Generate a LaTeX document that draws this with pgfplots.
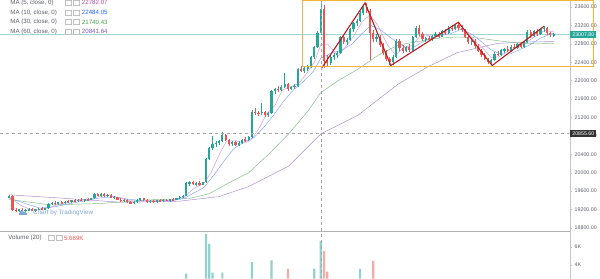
\documentclass[border=0pt]{standalone}
\usepackage{fontspec}
\setmainfont{Liberation Sans}
\usepackage{pgfplots}
\usepackage{pgfplotstable}
\pgfplotsset{compat=1.18}
\definecolor{up}{HTML}{26A69A}
\definecolor{dn}{HTML}{EF5350}
\definecolor{ma5}{HTML}{B44FB8}
\definecolor{ma10}{HTML}{2962FF}
\definecolor{ma30}{HTML}{43A047}
\definecolor{ma60}{HTML}{7E57C2}
\definecolor{trend}{HTML}{B71C1C}
\definecolor{boxc}{HTML}{F2B53C}
\definecolor{axgray}{HTML}{C3C5CB}
\definecolor{txt}{HTML}{5D606B}
\definecolor{wm}{HTML}{7FA6D6}
\newcommand\axf{\fontsize{5.3}{6}\selectfont}
\newcommand\lgf{\fontsize{6.2}{7}\selectfont}

\pgfplotstableread{
i o h l c
0 19468 19520 19450 19490
1 19490 19510 19160 19190
2 19190 19230 19150 19180
3 19180 19220 19140 19200
4 19200 19230 19160 19170
5 19170 19210 19140 19190
6 19190 19230 19160 19210
7 19210 19240 19170 19180
8 19180 19220 19150 19200
9 19200 19240 19180 19220
10 19220 19250 19190 19210
11 19210 19240 19180 19230
12 19230 19340 19220 19320
13 19320 19370 19290 19350
14 19350 19380 19300 19320
15 19320 19370 19300 19360
16 19360 19390 19320 19340
17 19340 19380 19310 19370
18 19370 19400 19340 19360
19 19360 19410 19350 19400
20 19400 19430 19370 19390
21 19390 19420 19360 19410
22 19410 19440 19380 19400
23 19400 19430 19370 19420
24 19420 19450 19390 19410
25 19410 19460 19400 19440
26 19440 19550 19430 19530
27 19530 19560 19490 19510
28 19510 19550 19480 19540
29 19540 19560 19480 19500
30 19500 19530 19470 19520
31 19520 19530 19440 19460
32 19460 19490 19420 19470
33 19470 19480 19400 19410
34 19410 19440 19370 19390
35 19390 19420 19360 19410
36 19410 19420 19340 19360
37 19360 19390 19320 19340
38 19340 19380 19310 19370
39 19370 19420 19350 19410
40 19410 19460 19390 19440
41 19440 19460 19380 19400
42 19400 19420 19350 19370
43 19370 19400 19340 19380
44 19380 19400 19350 19370
45 19370 19410 19350 19400
46 19400 19420 19370 19390
47 19390 19420 19360 19410
48 19410 19430 19380 19400
49 19400 19430 19370 19420
50 19420 19440 19390 19410
51 19410 19460 19400 19450
52 19450 19490 19430 19480
53 19480 19520 19460 19500
54 19500 19790 19490 19770
55 19770 19810 19720 19790
56 19790 19830 19730 19750
57 19750 19800 19720 19780
58 19780 19810 19720 19740
59 19740 19800 19730 19790
60 19790 20320 19780 20300
61 20300 20560 20280 20530
62 20530 20800 20500 20620
63 20620 20680 20560 20650
64 20650 20720 20610 20690
65 20690 20880 20670 20820
66 20820 20850 20680 20710
67 20710 20730 20590 20620
68 20620 20680 20580 20660
69 20660 20690 20570 20600
70 20600 20680 20580 20650
71 20650 20740 20630 20720
72 20720 20770 20670 20700
73 20700 20800 20680 20780
74 20780 21360 20760 21330
75 21330 21400 21260 21300
76 21300 21350 21240 21290
77 21290 21520 21260 21330
78 21330 21350 21220 21250
79 21250 21330 21210 21300
80 21300 21800 21280 21780
81 21780 21850 21720 21820
82 21820 21880 21760 21800
83 21800 21900 21780 21870
84 21870 22170 21850 21930
85 21930 21950 21780 21810
86 21810 21880 21790 21860
87 21860 21920 21820 21890
88 21890 22280 21870 22260
89 22260 22320 22180 22220
90 22220 22290 22170 22270
91 22270 22330 22200 22300
92 22300 22540 22280 22510
93 22510 22760 22480 22730
94 22730 23080 22700 23040
95 23040 23740 23000 23560
96 23560 23650 22270 22430
97 22430 22560 22300 22380
98 22380 22560 22350 22520
99 22520 22600 22450 22560
100 22560 22640 22490 22610
101 22610 22980 22590 22950
102 22950 23000 22800 22840
103 22840 22920 22780 22890
104 22890 23150 22870 23120
105 23120 23280 23050 23250
106 23250 23330 23180 23300
107 23300 23520 23270 23480
108 23480 23650 23430 23600
109 23600 23690 23480 23520
110 23520 23560 22450 23030
111 23030 23100 22850 22900
112 22900 23010 22830 22960
113 22960 22990 22740 22780
114 22780 22820 22560 22600
115 22600 22660 22430 22470
116 22470 22520 22340 22400
117 22400 22560 22340 22520
118 22520 22900 22500 22860
119 22860 22900 22650 22700
120 22700 22780 22600 22650
121 22650 22760 22620 22730
122 22730 22790 22620 22660
123 22660 22970 22640 22940
124 22940 23180 22920 23140
125 23140 23200 22980 23020
126 23020 23060 22860 22900
127 22900 22960 22850 22930
128 22930 22980 22860 22880
129 22880 23000 22860 22980
130 22980 23050 22940 23020
131 23020 23060 22930 22960
132 22960 23100 22940 23070
133 23070 23130 23000 23040
134 23040 23180 23020 23150
135 23150 23200 23080 23120
136 23120 23240 23100 23210
137 23210 23260 23100 23140
138 23140 23200 23060 23100
139 23100 23130 22930 22960
140 22960 23010 22800 22840
141 22840 22900 22780 22870
142 22870 22900 22720 22750
143 22750 22790 22620 22650
144 22650 22680 22520 22550
145 22550 22600 22440 22470
146 22470 22500 22360 22400
147 22400 22480 22340 22440
148 22440 22620 22420 22590
149 22590 22640 22530 22560
150 22560 22690 22540 22660
151 22660 22720 22600 22690
152 22690 22750 22620 22650
153 22650 22770 22630 22740
154 22740 22800 22680 22710
155 22710 22820 22690 22790
156 22790 22830 22700 22740
157 22740 22860 22720 22830
158 22830 23100 22810 23060
159 23060 23110 22930 22970
160 22970 23100 22950 23070
161 23070 23120 22980 23010
162 23010 23150 22990 23120
163 23120 23180 23060 23150
164 23150 23170 23000 23030
165 23030 23060 22960 22990
166 22980 23040 22950 23007.8
}\candles

\pgfplotsset{
  pane/.style={
    scale only axis, width=573pt,
    xmin=0, xmax=573,
    axis x line=none, axis y line*=right,
    y axis line style={axgray, line width=0.4pt},
    tick align=outside, major tick length=2pt,
    tick style={axgray, line width=0.4pt},
    yticklabel style={font=\axf, text=txt, xshift=-0.5pt},
    scaled y ticks=false,
  },
  candle/.style n args={2}{
    draw=none, mark=none, forget plot,
    /pgfplots/error bars/y dir=both,
    /pgfplots/error bars/y explicit,
    /pgfplots/error bars/error mark=none,
    /pgfplots/error bars/error bar style={draw=#1, line width=#2},
  },
}

\begin{document}
\begin{tikzpicture}[x=1pt,y=1pt]
\fill[white] (0,0) rectangle (600,280);

% ---------------- price pane ----------------
\begin{axis}[pane,
  name=pp, at={(0pt,48pt)}, anchor=south west,
  height=232pt, ymin=18734, ymax=23745,
  ytick={18800,19200,...,23600},
  yticklabel={\pgfmathprintnumber[fixed, fixed zerofill, precision=2, 1000 sep={}, assume math mode=true]{\tick}},
]
% last price line
\addplot[up!45, line width=0.35pt] coordinates {(0,23007.8) (573,23007.8)};
% moving averages
\addplot[ma60!70, line width=0.45pt] coordinates {(9,19520)(60,19450)(120,19360)(180,19380)(220,19480)(250,19700)(290,20140)(322.5,20842)(360,21250)(400,21920)(430,22300)(460,22610)(500,22810)(530,22840)(557,22850)};
\addplot[ma30!70, line width=0.45pt] coordinates {(9,19420)(50,19300)(100,19330)(150,19410)(190,19440)(210,19540)(230,19780)(250,20000)(270,20400)(290,20840)(310,21350)(322.5,21740)(340,22000)(360,22250)(380,22550)(400,22770)(420,22850)(440,22920)(460,22950)(480,22930)(500,22870)(520,22820)(540,22800)(557,22810)};
\addplot[ma10!60, line width=0.45pt] coordinates {(9,19450)(25,19330)(40,19230)(55,19260)(70,19330)(85,19390)(100,19450)(115,19480)(130,19420)(145,19390)(160,19390)(175,19400)(185,19440)(195,19560)(205,19680)(215,19950)(225,20250)(235,20520)(245,20670)(255,20760)(265,20980)(275,21250)(285,21550)(295,21800)(305,21980)(315,22200)(322.5,22484)(333,22600)(343,22660)(353,22780)(363,23000)(373,23200)(383,23100)(393,22930)(403,22780)(413,22680)(423,22820)(433,22920)(443,22990)(453,23020)(463,23110)(473,23030)(483,22870)(493,22680)(503,22580)(513,22580)(523,22680)(533,22780)(543,22920)(557,23040)};
\addplot[ma5!60, line width=0.45pt] coordinates {(9,19480)(20,19300)(30,19200)(40,19200)(50,19240)(60,19320)(75,19380)(90,19420)(100,19490)(110,19500)(120,19450)(130,19390)(140,19380)(150,19390)(160,19390)(175,19410)(185,19470)(195,19660)(205,19770)(212,20000)(220,20380)(228,20700)(236,20700)(245,20650)(252,20700)(260,20950)(268,21280)(276,21450)(284,21800)(292,21870)(300,21930)(308,22150)(316,22400)(322.5,22782)(330,22780)(340,22540)(348,22750)(356,22980)(364,23280)(372,23430)(380,23200)(390,22760)(398,22560)(406,22720)(414,22760)(422,22960)(430,22980)(440,22960)(450,23060)(460,23170)(468,23100)(476,22900)(486,22700)(494,22500)(502,22520)(512,22660)(522,22730)(532,22870)(540,22990)(548,23090)(557,23060)};
% candles: wicks
\addplot[restrict expr to domain={\thisrow{c}-\thisrow{o}}{0:100000}, candle={up}{0.5pt}]
  table[x expr=9+3.3*\thisrow{i}, y expr=(\thisrow{h}+\thisrow{l})/2, y error expr=(\thisrow{h}-\thisrow{l})/2] {\candles};
\addplot[restrict expr to domain={\thisrow{c}-\thisrow{o}}{-100000:-0.001}, candle={dn}{0.5pt}]
  table[x expr=9+3.3*\thisrow{i}, y expr=(\thisrow{h}+\thisrow{l})/2, y error expr=(\thisrow{h}-\thisrow{l})/2] {\candles};
% candles: bodies
\addplot[restrict expr to domain={\thisrow{c}-\thisrow{o}}{0:100000}, candle={up}{2.2pt}]
  table[x expr=9+3.3*\thisrow{i}, y expr=(\thisrow{o}+\thisrow{c})/2, y error expr={max(abs(\thisrow{c}-\thisrow{o})/2,12)}] {\candles};
\addplot[restrict expr to domain={\thisrow{c}-\thisrow{o}}{-100000:-0.001}, candle={dn}{2.2pt}]
  table[x expr=9+3.3*\thisrow{i}, y expr=(\thisrow{o}+\thisrow{c})/2, y error expr={max(abs(\thisrow{c}-\thisrow{o})/2,12)}] {\candles};
% drawn trend lines
\addplot[trend, line width=1.1pt] coordinates {(323.5,22276) (367,23690) (393,22330) (461,23270) (495,22330) (547,23180)};
% crosshair
\addplot[gray!70, dashed, line width=0.35pt] coordinates {(0,20855.6) (573,20855.6)};
\coordinate (lp) at (axis cs:573,23007.8);
\coordinate (ch) at (axis cs:573,20855.6);
\coordinate (rb) at (axis cs:303.5,22319);
\end{axis}

% ---------------- volume pane ----------------
\begin{axis}[pane,
  at={(0pt,0pt)}, anchor=south west,
  height=48pt, ymin=2444, ymax=7778,
  ytick={4000,6000}, yticklabels={4K,6K},
]
\addplot[ybar, bar width=2.2pt, bar shift=0pt, fill=up!50, draw=none] coordinates {
(187.2,3000) (207,7444) (210.3,6333) (213.6,3111) (223.5,3111) (253.2,4333) (273,4500) (315.9,3550) (322.5,6670) (362.1,3550)};
\addplot[ybar, bar width=2.2pt, bar shift=0pt, fill=dn!50, draw=none] coordinates {
(289.5,3550) (325.8,5550) (329.1,3220) (375.3,4440)};
\end{axis}

% pane separator and crosshair vertical
\draw[gray!60, line width=0.5pt] (0,48) -- (573,48);
\draw[gray!70, dashed, line width=0.35pt] (322.5,0) -- (322.5,280);

% yellow rectangle drawing
\draw[boxc, line width=0.7pt] (rb) -- (rb |- 0,279.6) -- (597,279.6) -- (597,0 |- rb) -- cycle;

% price labels on scale
\node[anchor=west, fill=up, text=white, font=\axf, inner sep=1pt, minimum width=26pt, minimum height=6.5pt] at ([xshift=0.5pt]lp) {23007.80};
\node[anchor=west, fill=black!80, text=white, font=\axf, inner sep=1pt, minimum width=26pt, minimum height=6.5pt] at ([xshift=0.5pt]ch) {20855.60};

% legends
\begin{scope}[font=\lgf]
\foreach \yy/\lab/\val/\col in {277.5/MA (5{,} close{,} 0)/22782.07/ma5, 267.8/MA (10{,} close{,} 0)/22484.05/ma10, 258.3/MA (30{,} close{,} 0)/21740.43/ma30, 248.6/MA (60{,} close{,} 0)/20841.64/ma60}{
  \node[anchor=west, text=txt, inner sep=0pt] at (10,\yy) {\lab};
  \draw[gray!50, line width=0.3pt] (65,\yy-2.5) rectangle (71,\yy+2.5);
  \draw[gray!50, line width=0.3pt] (73,\yy-2.5) rectangle (79,\yy+2.5);
  \node[anchor=west, text=\col, inner sep=0pt] at (82,\yy) {\val};
}
\node[anchor=west, text=txt, inner sep=0pt] at (8,41) {Volume (20)};
\draw[gray!50, line width=0.3pt] (48,38.5) rectangle (54,43.5);
\draw[gray!50, line width=0.3pt] (56,38.5) rectangle (62,43.5);
\node[anchor=west, text=dn, inner sep=0pt] at (64,41) {5.669K};
\end{scope}

% watermark
\fill[wm] (19,64) rectangle (27,66.5);
\fill[wm] (21.5,66.5) circle (2.2);
\fill[wm] (24.5,66) circle (1.6);
\node[anchor=west, text=wm, font=\fontsize{6.3}{7}\selectfont, inner sep=0pt] at (33,66) {Chart by TradingView};
\useasboundingbox (0,0) rectangle (600,280);
\end{tikzpicture}
\end{document}
